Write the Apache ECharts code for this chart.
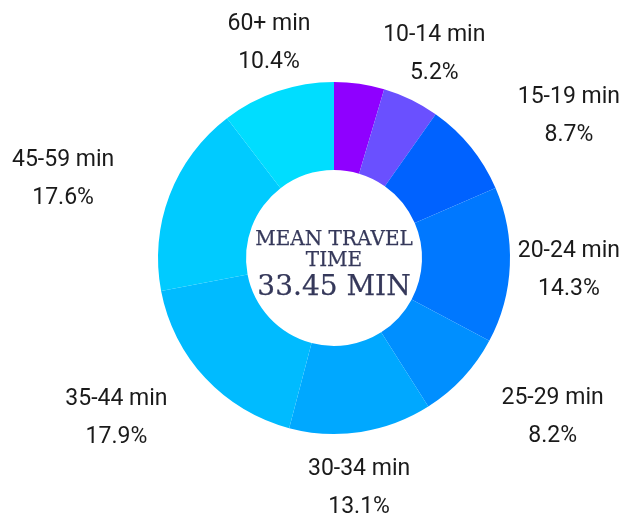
<!DOCTYPE html>
<html>
<head>
<meta charset="utf-8">
<script src="https://cdn.jsdelivr.net/npm/echarts@6/dist/echarts.min.js"></script>
<style>
html,body{margin:0;padding:0;background:#fff;}
#chart{width:623px;height:517px;}
</style>
</head>
<body>
<div id="chart"></div>
<script>
var categories = ['Under 10 min', '10-14 min', '15-19 min', '20-24 min', '25-29 min', '30-34 min', '35-44 min', '45-59 min', '60+ min'];
var shares = [4.6, 5.2, 8.7, 14.3, 8.2, 13.1, 17.9, 17.6, 10.4];
var showLabel = [false, true, true, true, true, true, true, true, true];
var colors = ['#8F00FF', '#6A50FF', '#0062FF', '#0078FF', '#008FFF', '#00A8FF', '#00BBFF', '#00CBFF', '#00DDFF'];
var centerTitle = 'MEAN TRAVEL\nTIME';
var centerValue = '33.45 MIN';

var W = 623, H = 517;
var CX = 334, CY = 258;

var total = shares.reduce(function (a, b) { return a + b; }, 0);
var midAngles = [];
(function () {
  var cum = 0;
  for (var i = 0; i < shares.length; i++) {
    midAngles.push((cum + shares[i] / 2) / total * 2 * Math.PI);
    cum += shares[i];
  }
})();

var chart = echarts.init(document.getElementById('chart'), null, {renderer: 'canvas'});
var option = {
  backgroundColor: '#ffffff',
  animation: false,
  graphic: [
    {
      type: 'text', x: CX, y: 250,
      style: {
        text: centerTitle, fill: '#35385A',
        stroke: '#35385A', lineWidth: 0.25,
        fontFamily: 'DejaVu Serif, Liberation Serif, serif', fontSize: 20,
        align: 'center', verticalAlign: 'middle', lineHeight: 21
      }
    },
    {
      type: 'text', x: CX, y: 288,
      style: {
        text: centerValue, fill: '#35385A',
        stroke: '#35385A', lineWidth: 0.25,
        fontFamily: 'DejaVu Serif, Liberation Serif, serif', fontSize: 28,
        align: 'center', verticalAlign: 'middle'
      }
    }
  ],
  series: [{
    type: 'pie',
    center: [CX, CY],
    radius: [88, 176],
    startAngle: 90,
    clockwise: true,
    avoidLabelOverlap: false,
    silent: true,
    itemStyle: { borderWidth: 0 },
    label: {
      show: true,
      position: 'outside',
      fontFamily: 'Roboto',
      fontSize: 23,
      lineHeight: 38,
      color: '#1a1a1a',
      formatter: function (p) { return p.name + '\n' + p.value.toFixed(1) + '%'; }
    },
    labelLine: { show: false },
    labelLayout: function (p) {
      var t = midAngles[p.dataIndex];
      var s = Math.sin(t), c = Math.cos(t);
      var x = CX + 128 * s + 232 * s * Math.abs(s);
      var y = CY + 3 - 230 * c;
      var w = p.labelRect.width;
      x = Math.max(w / 2 + 12, Math.min(W - 3 - w / 2, x));
      return { x: x, y: y, align: 'center', verticalAlign: 'middle' };
    },
    data: categories.map(function (name, i) {
      return {
        name: name,
        value: shares[i],
        itemStyle: { color: colors[i] },
        label: { show: showLabel[i] }
      };
    })
  }]
};
chart.setOption(option);
</script>
</body>
</html>
